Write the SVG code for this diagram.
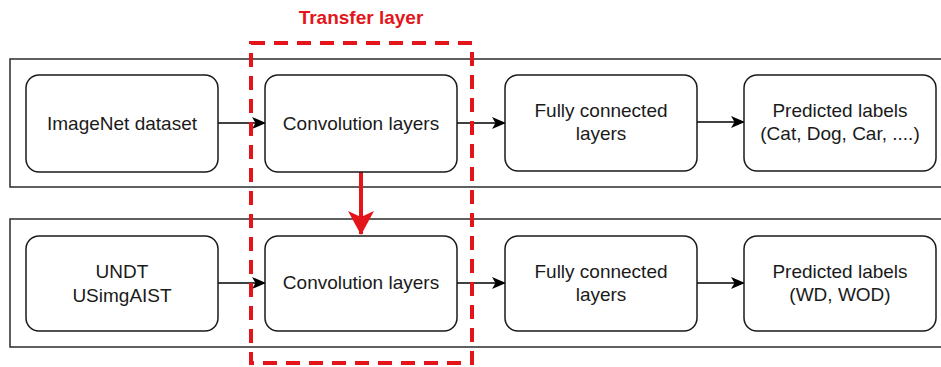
<svg xmlns="http://www.w3.org/2000/svg" width="941" height="367" viewBox="0 0 941 367">
<style>
.panel{fill:none;stroke:#2b2b2b;stroke-width:1.5}
.node{fill:#fff;stroke:#1a1a1a;stroke-width:1.5}
.t{font-family:"Liberation Sans",Arial,sans-serif;font-size:19px;fill:#1a1a1a;text-anchor:middle}
.edge{stroke:#000;stroke-width:1.5;fill:none}
.red{fill:none;stroke:#e3151b;stroke-width:4}
</style>
<defs>
<marker id="ah" viewBox="0 0 14 12" refX="13" refY="6" markerWidth="14" markerHeight="12" markerUnits="userSpaceOnUse" orient="auto">
<path d="M0,0 L14,6 L0,12 L3.5,6 Z" fill="#000"/>
</marker>
<marker id="rh" viewBox="0 0 24 26" refX="23" refY="13" markerWidth="24" markerHeight="26" markerUnits="userSpaceOnUse" orient="auto">
<path d="M0,0 L24,13 L0,26 L6,13 Z" fill="#e3151b"/>
</marker>
</defs>
<g id="panels">
<rect class="panel" x="10" y="59" width="940" height="128"/>
<rect class="panel" x="10" y="219" width="940" height="128"/>
</g>
<g id="connectors">
<line class="edge" x1="218" y1="123" x2="265" y2="123" marker-end="url(#ah)"/>
<line class="edge" x1="457" y1="123" x2="505" y2="123" marker-end="url(#ah)"/>
<line class="edge" x1="697" y1="122" x2="744" y2="122" marker-end="url(#ah)"/>
<line class="edge" x1="218" y1="283" x2="265" y2="283" marker-end="url(#ah)"/>
<line class="edge" x1="457" y1="283" x2="505" y2="283" marker-end="url(#ah)"/>
<line class="edge" x1="697" y1="283" x2="744" y2="283" marker-end="url(#ah)"/>
<line x1="361" y1="172" x2="361" y2="234" stroke="#e3151b" stroke-width="4" marker-end="url(#rh)"/>
</g>
<g id="n1"><rect class="node" x="26" y="75" width="192" height="97" rx="13"/><text class="t" x="122" y="130">ImageNet dataset</text></g>
<g id="n2"><rect class="node" x="265" y="75" width="192" height="97" rx="13"/><text class="t" x="361" y="130">Convolution layers</text></g>
<g id="n3"><rect class="node" x="505" y="75" width="192" height="96" rx="13"/><text class="t" x="601" y="117">Fully connected</text><text class="t" x="601" y="140">layers</text></g>
<g id="n4"><rect class="node" x="744" y="75" width="192" height="96" rx="13"/><text class="t" x="840" y="117">Predicted labels</text><text class="t" x="840" y="140">(Cat, Dog, Car, ....)</text></g>
<g id="n5"><rect class="node" x="26" y="236" width="192" height="95" rx="13"/><text class="t" x="122" y="278">UNDT</text><text class="t" x="122" y="302">USimgAIST</text></g>
<g id="n6"><rect class="node" x="265" y="236" width="192" height="95" rx="13"/><text class="t" x="361" y="289">Convolution layers</text></g>
<g id="n7"><rect class="node" x="505" y="236" width="192" height="95" rx="13"/><text class="t" x="601" y="278">Fully connected</text><text class="t" x="601" y="301">layers</text></g>
<g id="n8"><rect class="node" x="744" y="236" width="192" height="95" rx="13"/><text class="t" x="840" y="278">Predicted labels</text><text class="t" x="840" y="301">(WD, WOD)</text></g>
<g id="transfer">
<rect class="red" x="251" y="43" width="221" height="320" stroke-dasharray="14 9"/>
<text x="361" y="24" font-family="Liberation Sans,Arial,sans-serif" font-size="19px" font-weight="bold" fill="#e3151b" text-anchor="middle">Transfer layer</text>
</g>
</svg>
